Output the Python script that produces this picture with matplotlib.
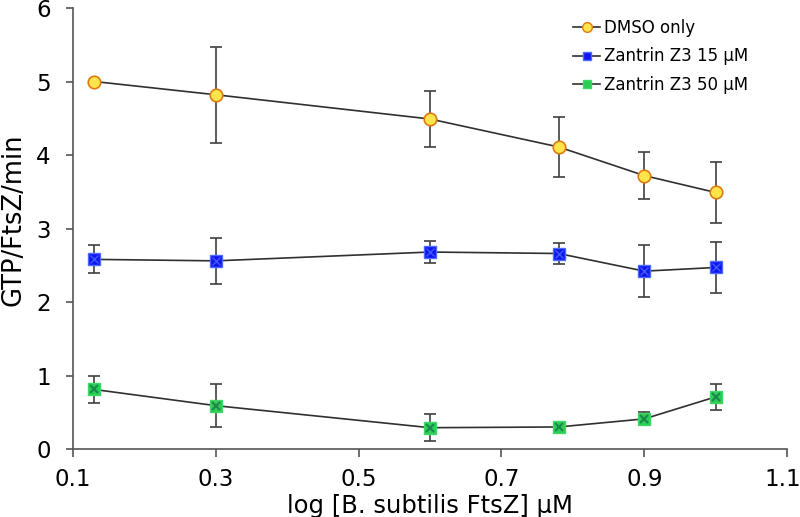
import numpy as np
import matplotlib.pyplot as plt
import matplotlib.transforms as mtrans
from matplotlib.lines import Line2D

x = [0.13, 0.30, 0.60, 0.78, 0.90, 1.00]

dmso = [5.00, 4.82, 4.49, 4.11, 3.72, 3.49]
dmso_err = [0.0, 0.65, 0.38, 0.41, 0.32, 0.42]

z15 = [2.58, 2.56, 2.68, 2.66, 2.42, 2.47]
z15_err = [0.19, 0.31, 0.15, 0.14, 0.35, 0.35]

z50 = [0.81, 0.59, 0.29, 0.30, 0.41, 0.71]
z50_err = [0.18, 0.29, 0.18, 0.03, 0.09, 0.18]

labels = ['DMSO only', 'Zantrin Z3 15 \u03bcM', 'Zantrin Z3 50 \u03bcM']

plt.rcParams['font.family'] = ['DejaVu Sans']

fig = plt.figure(figsize=(8, 5.17), dpi=100)
ax = fig.add_axes([0.091, 0.1315, 0.893, 0.853])

errc = '#404040'
for yv, ev in [(dmso, dmso_err), (z15, z15_err), (z50, z50_err)]:
    ax.errorbar(x, yv, yerr=ev, fmt='none', ecolor=errc, elinewidth=1.2,
                capsize=4, capthick=1.2, zorder=2)

ax.plot(x, dmso, '-', color='#303030', lw=1.2, marker='o', ms=9, mfc='#ffe44c', mec='#e07a10', mew=1.2, zorder=3)
ax.plot(x, z15, '-', color='#303030', lw=1.2, marker='s', ms=9, mfc='#1414f0', mec='#4a6cff', mew=1, zorder=3)
ax.plot(x, z15, 'x', color='#3a5cff', ms=6, mew=1, zorder=4)
ax.plot(x, z50, '-', color='#303030', lw=1.2, marker='s', ms=8, mfc='#2ccc55', mec='#3ed866', mew=1, zorder=3)
ax.plot(x, z50, 'x', color='#1a8a4a', ms=6, mew=1.5, zorder=4)

ax.set_xlim(0.1, 1.1)
ax.set_ylim(0, 6)
ax.set_xticks([0.1, 0.3, 0.5, 0.7, 0.9, 1.1])
ax.set_xticklabels(['0.1', '0.3', '0.5', '0.7', '0.9', '1.1'])
ax.set_yticks([0, 1, 2, 3, 4, 5, 6])

for s in ['top', 'right']:
    ax.spines[s].set_visible(False)
for s in ['left', 'bottom']:
    ax.spines[s].set_color('#555555')
    ax.spines[s].set_linewidth(1.2)
ax.tick_params(direction='out', width=1.2, color='#555555', labelsize=16.5, colors='black')
ax.tick_params(axis='x', length=6, pad=8)
ax.tick_params(axis='y', length=5, pad=11)

# last x label sits on the figure edge, pull it in a few px
last = ax.xaxis.get_major_ticks()[-1].label1
last.set_transform(last.get_transform() + mtrans.ScaledTranslation(-0.04, 0, fig.dpi_scale_trans))

ax.set_xlabel('log [B. subtilis FtsZ] \u03bcM', fontsize=17.5)
ax.xaxis.set_label_coords(0.5, -0.103)
ax.set_ylabel('GTP/FtsZ/min', fontsize=18.5)
ax.yaxis.set_label_coords(-0.065, 0.519)

h1 = Line2D([], [], color='#303030', lw=1.2, marker='o', ms=7, mfc='#ffe44c', mec='#e07a10')
h2 = Line2D([], [], color='#303030', lw=1.2, marker='s', ms=6, mfc='#1414f0', mec='#4a6cff')
h3 = Line2D([], [], color='#303030', lw=1.2, marker='s', ms=6, mfc='#2ccc55', mec='#3ed866')
fig.legend([h1, h2, h3], labels, loc='upper left', bbox_to_anchor=(0.716, 0.963), frameon=False,
           fontsize=12, handlelength=1.65, handletextpad=0.25, labelspacing=0.62,
           borderpad=0, borderaxespad=0)

fig.savefig('out.png', dpi=100)
